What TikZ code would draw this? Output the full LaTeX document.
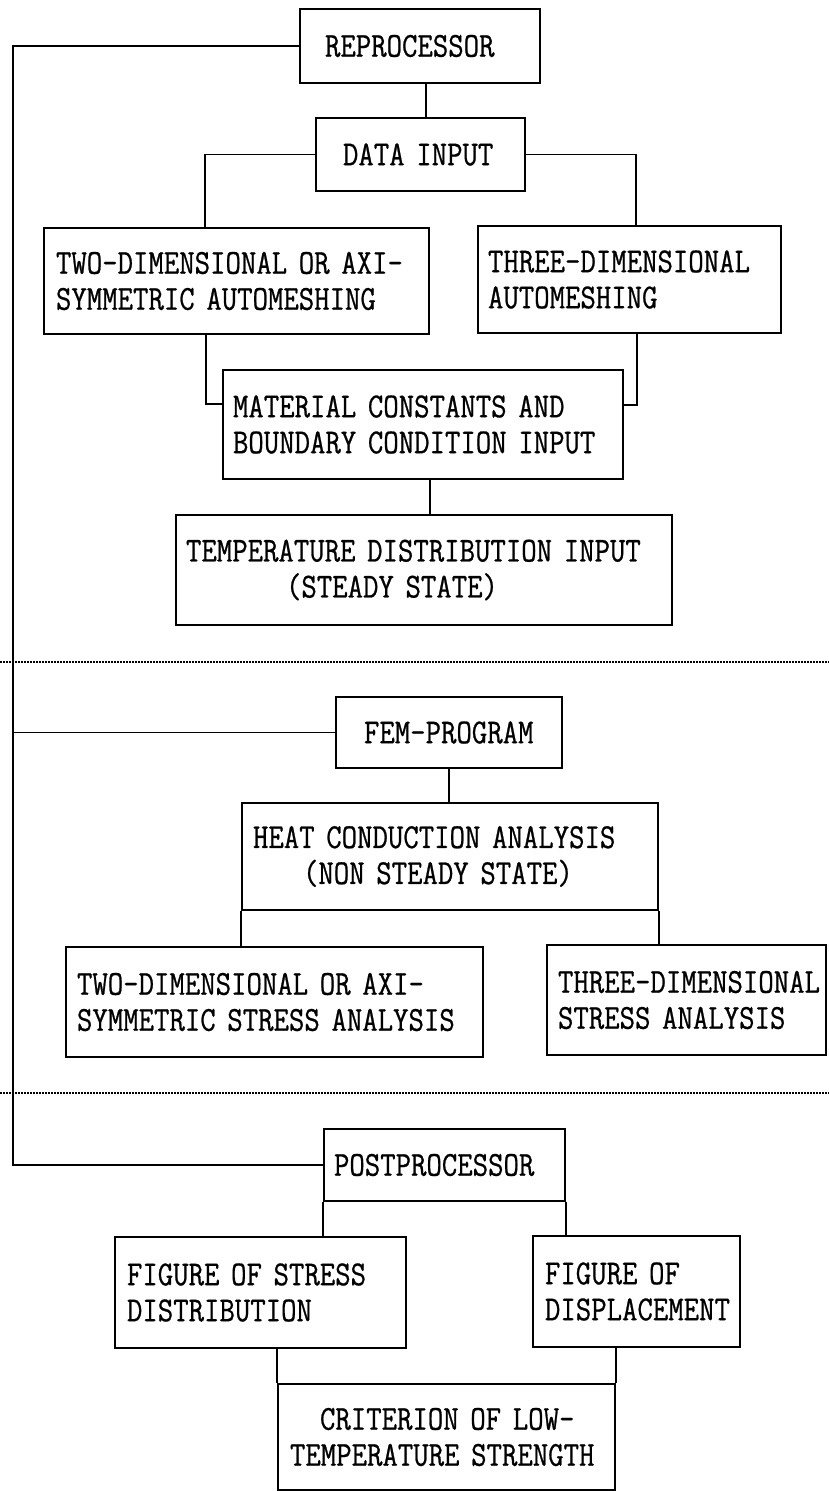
\documentclass[tikz,border=0pt]{standalone}
\usepackage{fontspec}
\newfontfamily\plotfont{Latin Modern Mono}[FakeStretch=0.855,FakeBold=0.7]
\begin{document}
\begin{tikzpicture}[x=1pt,y=-1pt,
  box/.style={draw, line width=1.8pt, rectangle, inner ysep=0pt, align=left,
              font=\plotfont\fontsize{35}{36}\selectfont,
              execute at begin node={\exhyphenpenalty=10000\hyphenpenalty=10000\hbadness=10000\hfuzz=200pt}},
  link/.style={line width=1.3pt},
  sepline/.style={line width=1.3pt, dash pattern=on 1.5pt off 1.5pt}]
\useasboundingbox (0,0) rectangle (829,1491);

% boxes
\node[box, minimum width=240pt, minimum height=74pt, inner xsep=25pt, text width=190pt] (rep) at (420,46) {REPROCESSOR};
\node[box, minimum width=209pt, minimum height=73pt, inner xsep=27pt, text width=155pt] (data) at (420.5,154.5) {DATA INPUT};
\node[box, minimum width=385pt, minimum height=106pt, inner xsep=12pt, text width=361pt] (two) at (236.5,281) {TWO-DIMENSIONAL OR AXI-\\SYMMETRIC AUTOMESHING};
\node[box, minimum width=303pt, minimum height=107pt, inner xsep=10pt, text width=283pt] (three) at (629.5,279.5) {THREE-DIMENSIONAL\\AUTOMESHING};
\node[box, minimum width=400pt, minimum height=109pt, inner xsep=10pt, text width=380pt] (mat) at (423,424.5) {MATERIAL CONSTANTS AND\\BOUNDARY CONDITION INPUT};
\node[box, minimum width=496pt, minimum height=110pt, inner xsep=10pt, text width=476pt] (temp) at (424,570) {TEMPERATURE DISTRIBUTION INPUT\\\hspace*{100pt}(STEADY STATE)};
\node[box, minimum width=226pt, minimum height=71pt, inner xsep=28pt, text width=170pt] (fem) at (449,732.5) {FEM-PROGRAM};
\node[box, minimum width=416pt, minimum height=107pt, inner xsep=11pt, text width=394pt] (heat) at (450,856.5) {HEAT CONDUCTION ANALYSIS\\\hspace*{50pt}(NON STEADY STATE)};
\node[box, minimum width=417pt, minimum height=110pt, inner xsep=11pt, text width=395pt] (twos) at (274.5,1002) {TWO-DIMENSIONAL OR AXI-\\SYMMETRIC STRESS ANALYSIS};
\node[box, minimum width=279pt, minimum height=110pt, inner xsep=11pt, text width=257pt] (threes) at (686.5,1000) {THREE-DIMENSIONAL\\STRESS ANALYSIS};
\node[box, minimum width=241pt, minimum height=72pt, inner xsep=10pt, text width=221pt] (post) at (444.5,1165) {POSTPROCESSOR};
\node[box, minimum width=291pt, minimum height=111pt, inner xsep=12pt, text width=267pt] (figs) at (260.5,1292.5) {FIGURE OF STRESS\\DISTRIBUTION};
\node[box, minimum width=207pt, minimum height=111pt, inner xsep=12pt, text width=183pt] (figd) at (636.5,1291.5) {FIGURE OF\\DISPLACEMENT};
\node[box, minimum width=337pt, minimum height=106pt, inner xsep=12pt, text width=313pt] (crit) at (446.5,1437) {\hspace*{30pt}CRITERION OF LOW-\\TEMPERATURE STRENGTH};

% left bus
\coordinate (bus) at (13,0);
\draw[link] (rep.west) -- (rep.west -| bus) -- (post.west -| bus) -- (post.west);
\draw[link] (fem.west) -- (fem.west -| bus);

% connectors
\draw[link] ([xshift=127pt]rep.south west) -- ([xshift=127pt]rep.south west |- data.north);
\draw[link] (data.west) -| ([xshift=162pt]two.north west);
\draw[link] (data.east) -| ([xshift=159pt]three.north west);
\draw[link] ([xshift=163pt]two.south west) |- ([yshift=-35pt]mat.north west);
\draw[link] ([xshift=160pt]three.south west) |- ([yshift=-36pt]mat.north east);
\draw[link] ([xshift=208pt]mat.south west) -- ([xshift=208pt]mat.south west |- temp.north);
\draw[link] (fem.south) -- (fem.south |- heat.north);
\draw[link] (heat.south west) -- (heat.south west |- twos.north);
\draw[link] (heat.south east) -- (heat.south east |- threes.north);
\draw[link] (post.south west) -- (post.south west |- figs.north);
\draw[link] (post.south east) -- (post.south east |- figd.north);
\draw[link] (crit.north west |- figs.south) -- (crit.north west);
\draw[link] (crit.north east |- figd.south) -- (crit.north east);

% dotted separators
\coordinate (s1l) at (0,662);  \coordinate (s1r) at (829,662);
\coordinate (s2l) at (0,1093); \coordinate (s2r) at (829,1093);
\draw[sepline] (s1l) -- (s1r);
\draw[sepline] (s2l) -- (s2r);
\end{tikzpicture}
\end{document}
